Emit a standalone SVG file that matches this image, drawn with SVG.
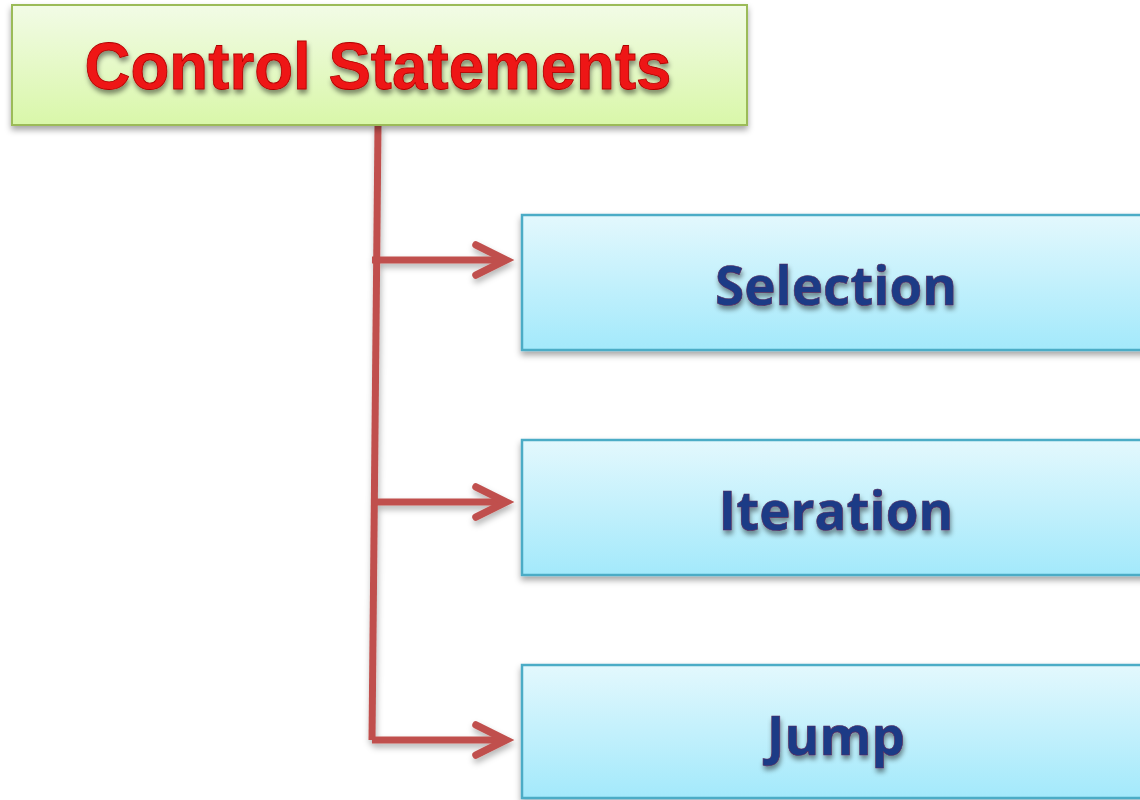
<svg xmlns="http://www.w3.org/2000/svg" width="1140" height="800" viewBox="0 0 1140 800">
  <defs>
    <linearGradient id="gGreen" x1="0" y1="0" x2="0" y2="1">
      <stop offset="0" stop-color="#f2fbe6"/>
      <stop offset="1" stop-color="#d9f7a9"/>
    </linearGradient>
    <linearGradient id="gBlue" x1="0" y1="0" x2="0" y2="1">
      <stop offset="0" stop-color="#e3f8fd"/>
      <stop offset="1" stop-color="#a3e9fb"/>
    </linearGradient>
    <filter id="boxShadow" x="-5%" y="-10%" width="110%" height="130%">
      <feDropShadow dx="0" dy="4" stdDeviation="3" flood-color="#000" flood-opacity="0.35"/>
    </filter>
    <filter id="lineShadow" x="-20%" y="-20%" width="140%" height="140%">
      <feDropShadow dx="1" dy="4" stdDeviation="3" flood-color="#000" flood-opacity="0.3"/>
    </filter>
    <filter id="textShadow" x="-10%" y="-20%" width="120%" height="160%">
      <feDropShadow dx="1" dy="4" stdDeviation="2.5" flood-color="#000" flood-opacity="0.45"/>
    </filter>
  </defs>
  <style>
    .root { fill: url(#gGreen); stroke: #9bbb59; stroke-width: 2; filter: url(#boxShadow); }
    .leaf { fill: url(#gBlue); stroke: #4bacc6; stroke-width: 2.5; filter: url(#boxShadow); }
    .title { font-family: "Liberation Sans", Arial, sans-serif; font-weight: bold; font-size: 66px; fill: #ee1414; stroke: #b00000; stroke-width: 0.8; text-anchor: middle; filter: url(#textShadow); }
    .label { font-family: "Open Sans", "Liberation Sans", sans-serif; font-weight: bold; font-size: 53px; fill: #1f3b86; stroke: #5a2a5a; stroke-width: 0.6; text-anchor: middle; filter: url(#textShadow); }
    .conn { fill: none; stroke: #c0504d; stroke-width: 7; }
    .head { fill: none; stroke: #c0504d; stroke-width: 7.5; stroke-linecap: round; stroke-linejoin: miter; }
  </style>

  <!-- connectors: trunk from the root box with three branches -->
  <g id="connectors" filter="url(#lineShadow)">
    <path class="conn" d="M378 125 L372 740"/>
    <path class="conn" d="M372 260 H502"/>
    <path class="conn" d="M372 502 H502"/>
    <path class="conn" d="M372 740 H502"/>
    <path class="head" d="M476 245 L506 260 L476 275"/>
    <path class="head" d="M476 487 L506 502 L476 517"/>
    <path class="head" d="M476 725 L506 740 L476 755"/>
  </g>

  <g id="control-statements">
    <rect class="root" x="12" y="5" width="735" height="120"/>
    <text class="title" x="378" y="89" textLength="587" lengthAdjust="spacingAndGlyphs">Control Statements</text>
  </g>

  <g id="selection">
    <rect class="leaf" x="522" y="215" width="630" height="135"/>
    <text class="label" x="836" y="305">Selection</text>
  </g>

  <g id="iteration">
    <rect class="leaf" x="522" y="440" width="630" height="135"/>
    <text class="label" x="836" y="530">Iteration</text>
  </g>

  <g id="jump">
    <rect class="leaf" x="522" y="665" width="630" height="133"/>
    <text class="label" x="836" y="755">Jump</text>
  </g>
</svg>
